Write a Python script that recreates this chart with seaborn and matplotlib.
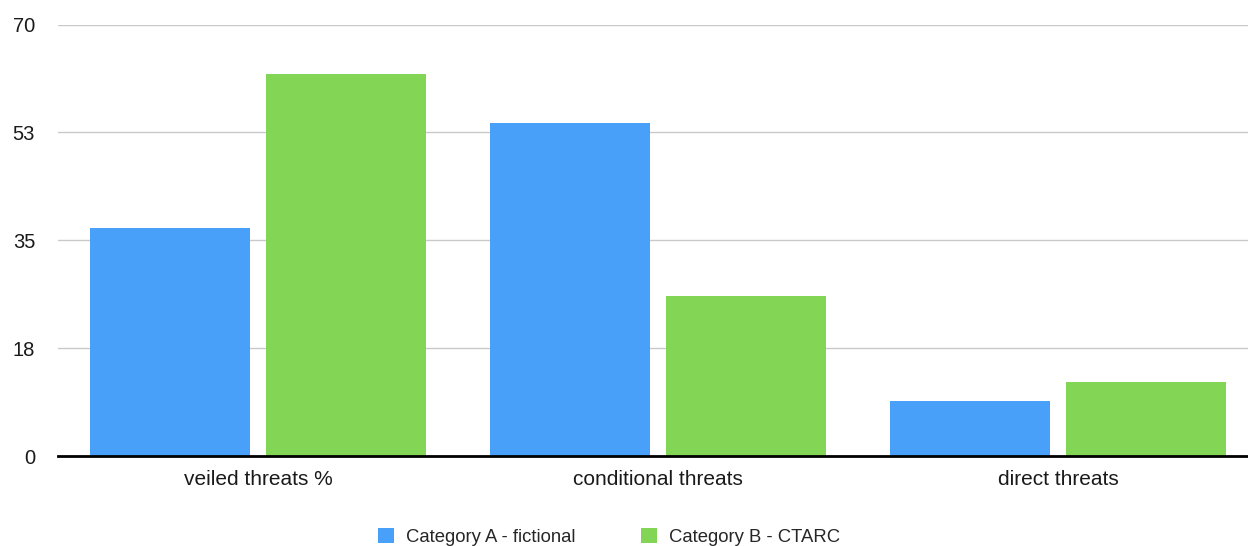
import matplotlib
matplotlib.use("Agg")
import matplotlib.pyplot as plt
from matplotlib.patches import Patch
import pandas as pd
import seaborn as sns

# Data
categories = ["veiled threats %", "conditional threats", "direct threats"]
series_names = ["Category A - fictional", "Category B - CTARC"]
values_a = [37, 54, 9]
values_b = [62, 26, 12]
y_tick_values = [0, 17.5, 35, 52.5, 70]
y_tick_labels = ["0", "18", "35", "53", "70"]

colors = ["#49A0F8", "#83D655"]

df = pd.DataFrame({
    "category": categories * 2,
    "series": [series_names[0]] * 3 + [series_names[1]] * 3,
    "value": values_a + values_b,
})

sns.set_theme(style="white")
plt.rcParams["font.family"] = ["Liberation Sans", "DejaVu Sans"]

fig = plt.figure(figsize=(12.48, 5.46), dpi=100)
ax = fig.add_axes([58 / 1248, 90 / 546, 1200 / 1248, 431.5 / 546])

sns.barplot(
    data=df, x="category", y="value", hue="series",
    order=categories, hue_order=series_names, palette=colors,
    width=0.88, gap=0.0909, saturation=1, errorbar=None,
    legend=False, ax=ax, linewidth=0,
)

ax.set_xlim(-0.5, 2.5)
ax.set_ylim(0, 70)
ax.set_yticks(y_tick_values)
ax.set_yticklabels(y_tick_labels, fontsize=14.5, color="#1a1a1a")
ax.tick_params(axis="y", length=0, pad=16.5)
ax.tick_params(axis="x", length=0, pad=10, labelsize=15, labelcolor="#1a1a1a")
ax.set_xlabel("")
ax.set_ylabel("")

ax.yaxis.grid(True, color="#c9c9c9", linewidth=1)
ax.set_axisbelow(True)
for side in ["top", "right", "left"]:
    ax.spines[side].set_visible(False)
ax.spines["bottom"].set_color("black")
ax.spines["bottom"].set_linewidth(2)
ax.spines["bottom"].set_zorder(5)

handles = [Patch(facecolor=c, edgecolor="none") for c in colors]
fig.legend(
    handles, series_names, loc="center", bbox_to_anchor=(609 / 1248, 9 / 546),
    ncol=2, frameon=False, fontsize=13.3, handlelength=0.87, handleheight=0.87,
    handletextpad=0.65, columnspacing=3.57,
)

fig.savefig("out.png", dpi=100)
